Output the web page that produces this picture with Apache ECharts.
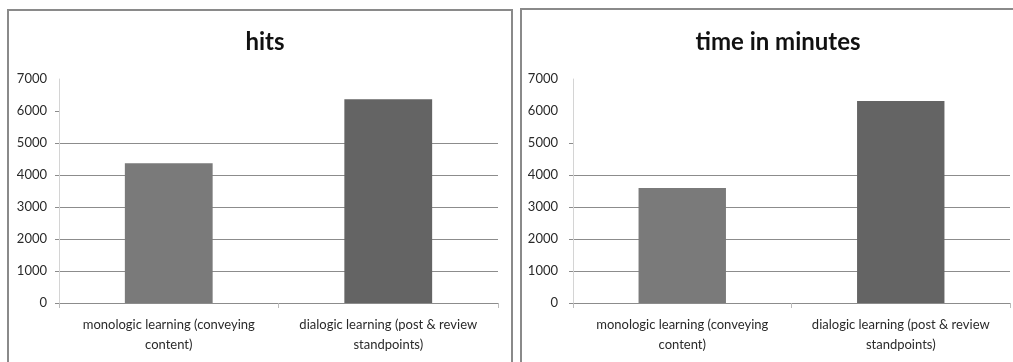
<!DOCTYPE html>
<html>
<head>
<meta charset="utf-8">
<script src="https://cdn.jsdelivr.net/npm/echarts@6/dist/echarts.min.js"></script>
<style>
  html, body { margin: 0; padding: 0; background: #fff; }
  #chart { width: 1013px; height: 362px; }
</style>
</head>
<body>
<div id="chart"></div>
<script>
const categories = ['monologic learning (conveying\ncontent)', 'dialogic learning (post & review\nstandpoints)'];
const hitsValues = [4370, 6370];
const timeValues = [3590, 6310];
const titles = ['hits', 'time in minutes'];
const barColors = ['#7a7a7a', '#646464'];
const yMin = 0, yMax = 7000, yStep = 1000;
const leftTickValues = [0, 1000, 2000, 3000, 4000, 5000, 6000];
const rightTickValues = [0, 1000, 2000, 3000, 4000, 5000];

const FONT = 'Lato, "Open Sans", sans-serif';
const gridLine = '#8c8c8c';

function yAxis(gridIndex, tickVals, splitColors, margin) {
  return {
    type: 'value', gridIndex, min: yMin, max: yMax, interval: yStep,
    axisLine: { show: true, lineStyle: { color: '#d4d4d4', width: 1 } },
    axisTick: { show: true, length: 4, customValues: tickVals, lineStyle: { color: gridLine } },
    axisLabel: { color: '#2a2a2a', fontFamily: FONT, fontSize: 13, margin: margin,
      formatter: (v) => String(v) },
    splitLine: { show: true, showMaxLine: false, lineStyle: { color: splitColors, width: 1 } }
  };
}
function xAxis(gridIndex) {
  return {
    type: 'category', gridIndex, data: categories,
    axisLine: { show: true, lineStyle: { color: '#8c8c8c', width: 1 } },
    axisTick: { show: true, length: 5, alignWithLabel: false, lineStyle: { color: '#bbbbbb' } },
    axisLabel: { color: '#2a2a2a', fontFamily: FONT, fontSize: 13, lineHeight: 20, margin: 12, interval: 0 }
  };
}
function dataItems(vals) {
  return vals.map((v, i) => ({ value: v, itemStyle: { color: barColors[i] } }));
}

const chart = echarts.init(document.getElementById('chart'), null, { renderer: 'canvas' });
chart.setOption({
  animation: false,
  backgroundColor: '#ffffff',
  title: [
    { text: titles[0], left: 260, top: 25, textAlign: 'center',
      textStyle: { fontFamily: FONT, fontWeight: 'bold', fontSize: 24, color: '#111' } },
    { text: titles[1], left: 773, top: 25, textAlign: 'center',
      textStyle: { fontFamily: FONT, fontWeight: 'bold', fontSize: 24, color: '#111' } }
  ],
  graphic: [
    { type: 'rect', shape: { x: 8, y: 10, width: 504, height: 370 },
      style: { fill: 'none', stroke: '#8a8a8a', lineWidth: 2 }, z: 0 },
    { type: 'rect', shape: { x: 521, y: 9, width: 520, height: 370 },
      style: { fill: 'none', stroke: '#8a8a8a', lineWidth: 2 }, z: 0 }
  ],
  grid: [
    { left: 59, right: 515, top: 79, bottom: 59, containLabel: false },
    { left: 573, right: 3, top: 79, bottom: 59, containLabel: false }
  ],
  xAxis: [xAxis(0), xAxis(1)],
  yAxis: [
    yAxis(0, leftTickValues, [gridLine, gridLine, gridLine, gridLine, gridLine, gridLine, gridLine, gridLine], 12),
    yAxis(1, rightTickValues, [gridLine, gridLine, gridLine, gridLine, gridLine, gridLine, 'rgba(0,0,0,0)', gridLine], 15)
  ],
  series: [
    { type: 'bar', xAxisIndex: 0, yAxisIndex: 0, barWidth: '40%', data: dataItems(hitsValues) },
    { type: 'bar', xAxisIndex: 1, yAxisIndex: 1, barWidth: '40%', data: dataItems(timeValues) }
  ]
});
</script>
</body>
</html>
